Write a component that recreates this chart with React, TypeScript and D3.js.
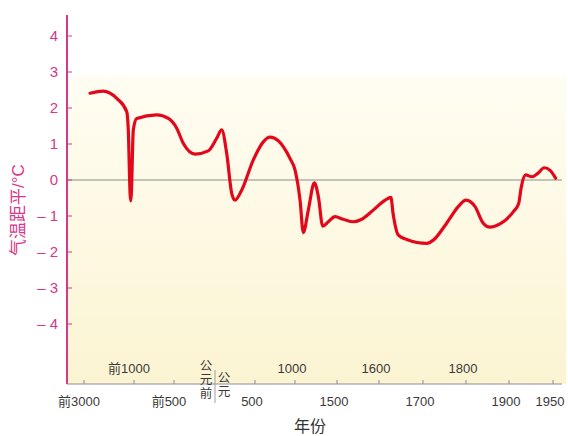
import React from "react";
import * as d3 from "d3";

// Temperature anomaly curve (year, °C anomaly)
const years = [
  -2760, -2228, -1692, -1292, -1228, -1155, -1132, -1108, -1028, -966, -716, -571, -467, -387, -244, -82,
  21, 84, 146, 209, 250, 334, 479, 604, 687, 791, 937, 1000, 1060, 1099, 1159, 1230, 1278,
  1330, 1397, 1476, 1515, 1539, 1559, 1587, 1614, 1627, 1632, 1644, 1663, 1709, 1724, 1755,
  1782, 1800, 1821, 1840, 1856, 1879, 1905, 1911, 1914, 1919, 1926, 1933, 1940, 1947, 1953,
];
const anomalies = [
  2.41, 2.47, 2.27, 1.9, 1.39, -0.4, -0.58, -0.4, 1.39, 1.71, 1.81, 1.71, 1.44, 1.02, 0.72, 0.81,
  1.16, 1.39, 0.74, -0.37, -0.56, -0.28, 0.56, 1.06, 1.19, 1.09, 0.6, 0.28, -0.56, -1.46, -0.83, -0.08, -0.46,
  -1.28, -1.16, -1.02, -1.09, -1.16, -1.09, -0.83, -0.56, -0.48, -0.93, -1.53, -1.65, -1.76, -1.67, -1.2,
  -0.74, -0.56, -0.74, -1.2, -1.31, -1.22, -0.88, -0.65, -0.19, 0.14, 0.09, 0.19, 0.34, 0.26, 0.05,
];

// Axis ticks
const tickYears = [-3000, -1000, -500, 0, 500, 1000, 1500, 1600, 1700, 1800, 1900, 1950];
const tickLabels = ["前3000", "前1000", "前500", "", "500", "1000", "1500", "1600", "1700", "1800", "1900", "1950"];
const tickUpper = [false, true, false, false, false, true, false, true, false, true, false, false];
const yTicks = [4, 3, 2, 1, 0, -1, -2, -3, -4];
const bcLabel = ["公", "元", "前"];
const adLabel = ["公", "元"];

// Piecewise horizontal layout of the break years
const xRange = [84, 134, 174, 215, 255, 295, 337, 379, 423, 466, 509, 553];

const PINK = "#d8378a";
const RED = "#e3071b";
const FONT = "'Liberation Sans', Arial, 'Noto Sans CJK SC', sans-serif";

export default function App() {
  const x = d3.scaleLinear().domain(tickYears).range(xRange);
  const y = d3.scaleLinear().domain([-4, 4]).range([324, 36]);
  const left = 67;
  const bottom = 384;
  const top = 15;
  const right = 566;

  const pts = years.map((yr, i) => [yr, anomalies[i]] as [number, number]);
  const line = d3
    .line<[number, number]>()
    .x((d) => x(d[0]))
    .y((d) => y(d[1]))
    .curve(d3.curveMonotoneX);

  return (
    <svg width={568} height={436} style={{ position: "absolute", left: 0, top: 0, fontFamily: FONT }}>
      <defs>
        <linearGradient id="bg" x1="0" y1="0" x2="0" y2="1">
          <stop offset="0%" stopColor="#fffdf3" />
          <stop offset="100%" stopColor="#fbf4d2" />
        </linearGradient>
      </defs>
      <rect x={0} y={0} width={568} height={436} fill="#ffffff" />
      <rect x={left} y={76} width={right - left} height={bottom - 76} fill="url(#bg)" />

      {/* zero line */}
      <line x1={left} x2={562} y1={y(0)} y2={y(0)} stroke="#8a8a8a" strokeWidth={1.2} />

      {/* y axis */}
      <line x1={left} x2={left} y1={top} y2={bottom} stroke={PINK} strokeWidth={2} />
      {yTicks.map((t) => (
        <g key={t}>
          <line x1={left} x2={left + 5} y1={y(t)} y2={y(t)} stroke={PINK} strokeWidth={1} />
          <text x={58} y={y(t)} dy="0.36em" textAnchor="end" fontSize={15} fill={PINK}>
            {t < 0 ? `– ${-t}` : `${t}`}
          </text>
        </g>
      ))}
      <text transform={`translate(24,${210}) rotate(-90)`} textAnchor="middle" fontSize={17} fill={PINK}>
        气温距平/°C
      </text>

      {/* x axis */}
      <line x1={left} x2={562} y1={bottom} y2={bottom} stroke="#8f8a9a" strokeWidth={1.2} />
      {tickYears.map((t, i) => (
        <g key={t}>
          {t === 0 ? (
            <line x1={x(t)} x2={x(t)} y1={370} y2={403} stroke="#a0a0a0" strokeWidth={1} />
          ) : (
            <line x1={x(t)} x2={x(t)} y1={bottom} y2={bottom - 4} stroke="#8f8a9a" strokeWidth={1} />
          )}
          {tickLabels[i] !== "" && (
            <text
              x={x(t) + (tickLabels[i].startsWith("前") ? -5 : -3)}
              y={tickUpper[i] ? 373 : 406}
              textAnchor="middle"
              fontSize={13}
              fill="#3a3a3a"
            >
              {tickLabels[i]}
            </text>
          )}
        </g>
      ))}
      {/* 公元前 / 公元 vertical labels */}
      {bcLabel.map((c, i) => (
        <text key={"b" + i} x={x(0) - 9} y={370 + i * 14} textAnchor="middle" fontSize={12.5} fill="#3a3a3a">
          {c}
        </text>
      ))}
      {adLabel.map((c, i) => (
        <text key={"a" + i} x={x(0) + 9} y={382 + i * 13.5} textAnchor="middle" fontSize={12.5} fill="#3a3a3a">
          {c}
        </text>
      ))}
      <text x={310} y={432} textAnchor="middle" fontSize={16} fill="#333">
        年份
      </text>

      {/* curve */}
      <path d={line(pts) ?? ""} fill="none" stroke={RED} strokeWidth={3.2} strokeLinejoin="round" strokeLinecap="round" />
    </svg>
  );
}
